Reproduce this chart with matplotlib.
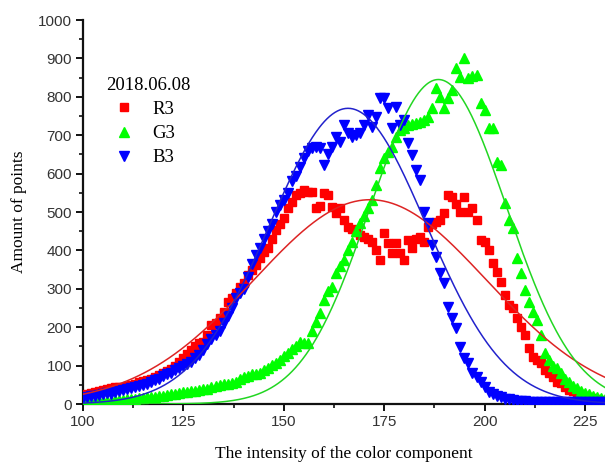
import numpy as np
import matplotlib
matplotlib.use("Agg")
import matplotlib.pyplot as plt
from matplotlib.ticker import MultipleLocator

# ---------------- data ----------------
intensity = list(range(100, 231))

r3 = [22, 25, 28, 30, 33, 36, 40, 42, 44, 44,
      45, 48, 50, 53, 56, 60, 62, 66, 70, 75,
      80, 85, 92, 100, 110, 120, 130, 141, 150, 158,
      161, 180, 206, 211, 225, 240, 266, 276, 290, 305,
      314, 336, 350, 362, 380, 395, 406, 430, 453, 470,
      484, 510, 525, 544, 550, 557, 552, 552, 510, 515,
      549, 544, 513, 497, 510, 480, 461, 455, 448, 440,
      435, 430, 422, 400, 375, 445, 420, 393, 419, 393,
      375, 427, 406, 430, 435, 422, 461, 470, 474, 479,
      497, 544, 539, 520, 500, 539, 500, 510, 479, 427,
      422, 401, 367, 345, 318, 284, 258, 250, 224, 200,
      180, 146, 122, 115, 107, 89, 80, 70, 57, 55,
      44, 36, 33, 30, 26, 22, 18, 15, 12, 10,
      8]

g3 = [5, 5, 6, 6, 7, 8, 8, 9, 10, 10,
      11, 12, 13, 14, 15, 16, 17, 18, 19, 20,
      22, 24, 25, 27, 28, 30, 31, 33, 35, 36,
      38, 40, 44, 47, 49, 51, 53, 54, 58, 65,
      71, 74, 77, 79, 80, 88, 95, 101, 108, 114,
      125, 132, 142, 152, 162, 160, 158, 190, 213, 237,
      270, 295, 305, 341, 360, 375, 401, 422, 450, 471,
      490, 510, 530, 570, 615, 640, 655, 669, 695, 713,
      720, 727, 730, 732, 734, 740, 747, 771, 823, 800,
      771, 797, 818, 875, 852, 901, 849, 855, 857, 784,
      766, 719, 719, 630, 622, 523, 479, 458, 380, 341,
      297, 266, 240, 219, 180, 133, 115, 100, 94, 81,
      65, 57, 48, 42, 35, 29, 25, 20, 18, 15,
      12]

b3 = [15, 18, 20, 22, 24, 26, 28, 27, 30, 33,
      36, 40, 42, 45, 48, 50, 53, 57, 62, 66,
      72, 78, 82, 88, 94, 100, 105, 110, 120, 128,
      140, 155, 168, 180, 190, 210, 228, 250, 275, 290,
      300, 330, 365, 388, 405, 430, 450, 468, 500, 518,
      530, 550, 580, 595, 617, 640, 660, 667, 670, 667,
      622, 650, 669, 696, 682, 727, 706, 696, 700, 706,
      727, 753, 721, 748, 797, 797, 771, 719, 774, 727,
      740, 680, 648, 609, 583, 500, 471, 414, 383, 341,
      315, 253, 224, 198, 149, 120, 106, 81, 70, 57,
      44, 31, 25, 20, 18, 14, 12, 10, 9, 8,
      7, 6, 6, 5, 5, 5, 5, 5, 5, 5,
      5, 5, 5, 5, 5, 5, 5, 5, 5, 5,
      5]

# Gaussian fit parameters: amplitude, centre, sigma
r3_fit = [532, 171.5, 29.0]
g3_fit = [845, 188.5, 17.0]
b3_fit = [770, 166.0, 19.5]

legend_title = "2018.06.08"
series_names = ["R3", "G3", "B3"]
xlabel = "The intensity of the color component"
ylabel = "Amount of points"

# ---------------- figure ----------------
W, H = 605, 462
fig = plt.figure(figsize=(W / 100, H / 100), dpi=100)
ax = fig.add_axes([83 / W, 1 - 404 / H, (W - 83) / W, (404 - 20) / H])

x = np.array(intensity)
xs = np.linspace(100, 230, 600)

def gauss(p, t):
    a, c, s = p
    return a * np.exp(-(t - c) ** 2 / (2 * s ** 2))

ax.plot(x, r3, linestyle="none", marker="s", ms=6.0, color="#ff0000",
        mec="#ff0000", label=series_names[0], zorder=3)
ax.plot(x, g3, linestyle="none", marker="^", ms=7.3, color="#00ff00",
        mec="#00ff00", label=series_names[1], zorder=3)
ax.plot(x, b3, linestyle="none", marker="v", ms=7.3, color="#0000ff",
        mec="#0000ff", label=series_names[2], zorder=3)

ax.plot(xs, gauss(r3_fit, xs), color="#dd2424", lw=1.1, zorder=4)
ax.plot(xs, gauss(g3_fit, xs), color="#22d622", lw=1.1, zorder=4)
ax.plot(xs, gauss(b3_fit, xs), color="#2222cc", lw=1.1, zorder=4)

ax.set_xlim(100, 230)
ax.set_ylim(0, 1000)
ax.xaxis.set_major_locator(MultipleLocator(25))
ax.xaxis.set_minor_locator(MultipleLocator(12.5))
ax.yaxis.set_major_locator(MultipleLocator(100))
ax.yaxis.set_minor_locator(MultipleLocator(50))

for s in ["top", "right"]:
    ax.spines[s].set_visible(False)
for s in ["left", "bottom"]:
    ax.spines[s].set_linewidth(1.6)
    ax.spines[s].set_color("#111111")

tick_font = ["Liberation Sans Narrow", "Liberation Sans", "DejaVu Sans"]
ax.tick_params(which="major", direction="out", length=5, width=1.4,
               colors="#111111", labelsize=11, labelcolor="#333333", pad=3)
ax.tick_params(which="minor", direction="out", length=3, width=1.2,
               colors="#111111")
for lab in ax.get_xticklabels() + ax.get_yticklabels():
    lab.set_fontfamily(tick_font)

serif = ["Liberation Serif", "DejaVu Serif"]
ax.set_xlabel(xlabel, fontsize=12.5, family=serif, labelpad=12)
ax.set_ylabel(ylabel, fontsize=12.5, family=serif, labelpad=8)

leg = ax.legend(loc="upper left", bbox_to_anchor=(102 / W, 1 - 73 / H),
                bbox_transform=fig.transFigure, frameon=False,
                title=legend_title, alignment="left",
                prop={"family": serif, "size": 13.5},
                title_fontproperties={"family": serif, "size": 13.5},
                handlelength=1.9, handletextpad=0.6, labelspacing=0.38,
                borderpad=0.2, borderaxespad=0)

fig.savefig("out.png", dpi=100)
